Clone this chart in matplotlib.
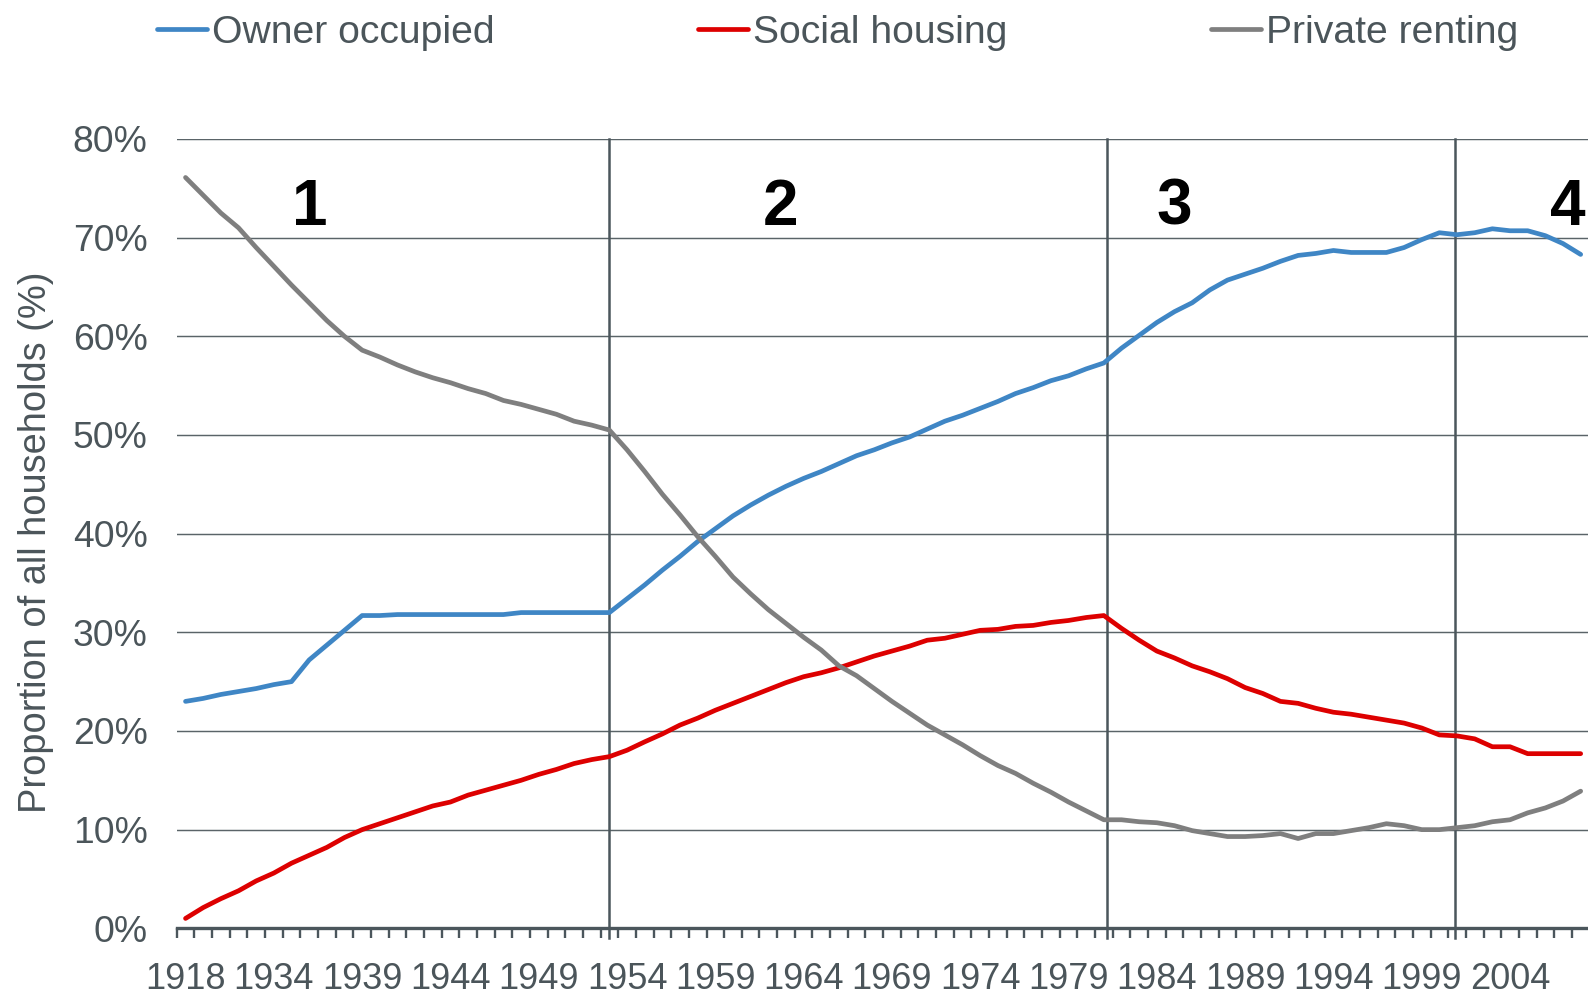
import matplotlib
matplotlib.use("Agg")
import matplotlib.pyplot as plt

plt.rcParams['font.family'] = ['Liberation Sans', 'DejaVu Sans']

# ---- data ----
years = [1918] + list(range(1930, 2009))          # category axis (80 categories)
label_every = 5                                     # one tick label every 5 categories

owner_occupied = [
    23.0, 23.3, 23.7, 24.0, 24.3, 24.7, 25.0,
    27.2, 28.7, 30.2, 31.7,
    31.7, 31.8, 31.8, 31.8, 31.8, 31.8, 31.8, 31.8, 32.0, 32.0, 32.0, 32.0, 32.0, 32.0,
    33.4, 34.8, 36.3, 37.7, 39.2, 40.5, 41.8, 42.9, 43.9, 44.8, 45.6, 46.3, 47.1, 47.9,
    48.5, 49.2, 49.8, 50.6, 51.4, 52.0, 52.7, 53.4, 54.2, 54.8, 55.5, 56.0, 56.7, 57.3,
    58.8, 60.1, 61.4, 62.5, 63.4, 64.7, 65.7, 66.3, 66.9, 67.6, 68.2, 68.4, 68.7, 68.5,
    68.5, 68.5, 69.0, 69.8, 70.5, 70.3, 70.5, 70.9, 70.7, 70.7, 70.2, 69.4, 68.3,
]
social_housing = [
    1.0, 2.1, 3.0, 3.8, 4.8, 5.6, 6.6, 7.4, 8.2, 9.2, 10.0, 10.6, 11.2, 11.8, 12.4,
    12.8, 13.5, 14.0, 14.5, 15.0, 15.6, 16.1, 16.7, 17.1, 17.4,
    18.05, 18.9, 19.7, 20.6, 21.3, 22.1, 22.8, 23.5, 24.2, 24.9, 25.5, 25.9, 26.4, 27.0,
    27.6, 28.1, 28.6, 29.2, 29.4, 29.8, 30.2, 30.3, 30.6, 30.7, 31.0, 31.2, 31.5, 31.7,
    30.4, 29.2, 28.1, 27.4, 26.6, 26.0, 25.3, 24.4, 23.8, 23.0, 22.8, 22.3, 21.9, 21.7,
    21.4, 21.1, 20.8, 20.3, 19.6, 19.5, 19.2, 18.4, 18.4, 17.7, 17.7, 17.7, 17.7,
]
private_renting = [
    76.1, 74.3, 72.5, 71.0, 69.0, 67.1, 65.2, 63.4, 61.6, 60.0, 58.6,
    57.9, 57.1, 56.4, 55.8, 55.3, 54.7, 54.2, 53.5, 53.1, 52.6, 52.1, 51.4, 51.0, 50.5,
    48.5, 46.3, 44.0, 41.9, 39.7, 37.7, 35.6, 33.9, 32.3, 30.9, 29.5, 28.2, 26.6, 25.6,
    24.3, 23.0, 21.8, 20.6, 19.6, 18.6, 17.5, 16.5, 15.7, 14.7, 13.8, 12.8, 11.9, 11.0,
    11.0, 10.8, 10.7, 10.4, 9.9, 9.6, 9.3, 9.3, 9.4, 9.6, 9.1, 9.6, 9.6, 9.9,
    10.2, 10.6, 10.4, 10.0, 10.0, 10.2, 10.4, 10.8, 11.0, 11.7, 12.2, 12.9, 13.9,
]
series_names = ['Owner occupied', 'Social housing', 'Private renting']
period_labels = ['1', '2', '3', '4']
y_ticks = [0, 10, 20, 30, 40, 50, 60, 70, 80]
y_label = 'Proportion of all households (%)'

# ---- styling ----
colors = ['#3f86c5', '#dd0000', '#7f7f7f']
text_color = '#4b555a'
axis_color = '#4b565c'
grid_color = '#5a6468'

W, H = 1588, 992
fig = plt.figure(figsize=(W / 100, H / 100), dpi=100)
ax_left, ax_right, ax_bottom, ax_top = 176.7, 1589.5, 928.3, 139.0
ax = fig.add_axes([ax_left / W, 1 - ax_bottom / H,
                   (ax_right - ax_left) / W, (ax_bottom - ax_top) / H])

x = list(range(len(years)))
lines = []
for vals, name, c in zip([owner_occupied, social_housing, private_renting], series_names, colors):
    ln, = ax.plot(x, vals, color=c, lw=3.4, solid_joinstyle='round', solid_capstyle='round',
                  label=name, zorder=3)
    lines.append(ln)

ax.set_xlim(-0.5, len(years) - 0.5)
ax.set_ylim(0, 80)

# y axis
ax.set_yticks(y_ticks)
ax.set_yticklabels([f'{v}%' for v in y_ticks])
ax.tick_params(axis='y', length=0, pad=21, labelsize=26.8, labelcolor=text_color)
for v in y_ticks[1:]:
    ax.axhline(v, color=grid_color, lw=1.05, zorder=1)

# x axis: tick marks between categories, labels every 5th category
ax.set_xticks([i - 0.5 for i in range(len(years) + 1)])
ax.set_xticklabels([])
ax.tick_params(axis='x', which='major', direction='out', length=7.2, width=1.7,
               color=axis_color)
lab_pos = list(range(0, len(years), label_every))
ax.set_xticks(lab_pos, minor=True)
ax.set_xticklabels([str(years[i]) for i in lab_pos], minor=True)
ax.tick_params(axis='x', which='minor', length=0, pad=24, labelsize=26,
               labelcolor=text_color)

for s in ['left', 'right', 'top']:
    ax.spines[s].set_visible(False)
ax.spines['bottom'].set_color(axis_color)
ax.spines['bottom'].set_linewidth(2.4)
ax.spines['bottom'].set_zorder(4)

# period separators
for xb in [24.0, 52.2, 71.9]:
    ax.axvline(xb, ymin=-0.0127, ymax=1, color=axis_color, lw=1.8, zorder=2, clip_on=False)

# period numbers
for lab, xp in zip(period_labels, [7.05, 33.7, 56.0, 78.3]):
    ax.text(xp, 71.3, lab, ha='center', va='baseline', fontsize=46, fontweight='bold',
            color='black', zorder=5)

ax.set_ylabel(y_label, fontsize=27.4, color=text_color)
ax.yaxis.set_label_coords((54 - ax_left) / (ax_right - ax_left),
                          (ax_bottom - 542.4) / (ax_bottom - ax_top))

leg = ax.legend(handles=lines, loc='upper left',
                bbox_to_anchor=(157 / W, 1 - 14.6 / H), bbox_transform=fig.transFigure,
                ncol=3, frameon=False, fontsize=28.2, handlelength=1.28,
                handletextpad=0.12, columnspacing=5.2, borderpad=0, borderaxespad=0,
                labelcolor=text_color)
for h in leg.get_lines():
    h.set_linewidth(3.4)
    h.set_solid_capstyle('round')

fig.savefig('out.png', dpi=100)
